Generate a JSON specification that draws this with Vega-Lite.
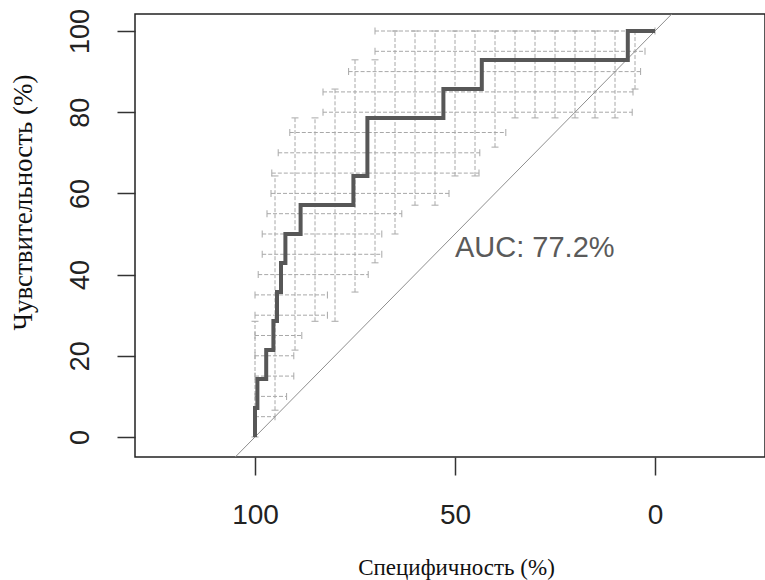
{
  "$schema": "https://vega.github.io/schema/vega-lite/v6.json",
  "width": 630,
  "height": 443,
  "autosize": "none",
  "padding": {"left": 135, "top": 14, "right": 0, "bottom": 123},
  "background": "white",
  "config": {
    "view": {"stroke": "#222", "strokeWidth": 1.5},
    "axis": {
      "grid": false,
      "domain": false,
      "tickColor": "#333",
      "tickWidth": 1.5,
      "tickSize": 18,
      "labelFont": "Liberation Sans",
      "labelFontSize": 28,
      "labelColor": "#222",
      "titleFont": "Liberation Serif",
      "titleFontSize": 27,
      "titleFontWeight": "normal",
      "titleColor": "#111"
    }
  },
  "datasets": {
    "roc": [
      {"i": 1, "spec": 100, "sens": 0},
      {"i": 2, "spec": 100, "sens": 7.14},
      {"i": 3, "spec": 99.4, "sens": 7.14},
      {"i": 4, "spec": 99.4, "sens": 14.29},
      {"i": 5, "spec": 97.2, "sens": 14.29},
      {"i": 6, "spec": 97.2, "sens": 21.43},
      {"i": 7, "spec": 95.4, "sens": 21.43},
      {"i": 8, "spec": 95.4, "sens": 28.57},
      {"i": 9, "spec": 94.5, "sens": 28.57},
      {"i": 10, "spec": 94.5, "sens": 35.71},
      {"i": 11, "spec": 93.5, "sens": 35.71},
      {"i": 12, "spec": 93.5, "sens": 42.86},
      {"i": 13, "spec": 92.4, "sens": 42.86},
      {"i": 14, "spec": 92.4, "sens": 50},
      {"i": 15, "spec": 88.6, "sens": 50},
      {"i": 16, "spec": 88.6, "sens": 57.14},
      {"i": 17, "spec": 75.4, "sens": 57.14},
      {"i": 18, "spec": 75.4, "sens": 64.29},
      {"i": 19, "spec": 71.9, "sens": 64.29},
      {"i": 20, "spec": 71.9, "sens": 78.57},
      {"i": 21, "spec": 52.9, "sens": 78.57},
      {"i": 22, "spec": 52.9, "sens": 85.71},
      {"i": 23, "spec": 43.3, "sens": 85.71},
      {"i": 24, "spec": 43.3, "sens": 92.86},
      {"i": 25, "spec": 6.8, "sens": 92.86},
      {"i": 26, "spec": 6.8, "sens": 100},
      {"i": 27, "spec": 0, "sens": 100}
    ],
    "ci_sp": [
      {"sens": 5, "sp_high": 100, "sp_low": 95},
      {"sens": 10, "sp_high": 100, "sp_low": 92.1},
      {"sens": 15, "sp_high": 100, "sp_low": 90.3},
      {"sens": 20, "sp_high": 100, "sp_low": 90.3},
      {"sens": 25, "sp_high": 100, "sp_low": 88.3},
      {"sens": 30, "sp_high": 100, "sp_low": 81.9},
      {"sens": 35, "sp_high": 100, "sp_low": 81.9},
      {"sens": 40, "sp_high": 99.2, "sp_low": 71.7},
      {"sens": 45, "sp_high": 98.2, "sp_low": 68.3},
      {"sens": 50, "sp_high": 98.2, "sp_low": 68.3},
      {"sens": 55, "sp_high": 97, "sp_low": 63.3},
      {"sens": 60, "sp_high": 96, "sp_low": 51.5},
      {"sens": 65, "sp_high": 95.8, "sp_low": 44},
      {"sens": 70, "sp_high": 94.2, "sp_low": 43.8},
      {"sens": 75, "sp_high": 91.3, "sp_low": 37.3},
      {"sens": 80, "sp_high": 83, "sp_low": 5.7},
      {"sens": 85, "sp_high": 83, "sp_low": 5.5},
      {"sens": 90, "sp_high": 76.6, "sp_low": 3.6},
      {"sens": 95, "sp_high": 70, "sp_low": 2.5},
      {"sens": 100, "sp_high": 70, "sp_low": 0}
    ],
    "ci_se": [
      {"spec": 100, "se_low": 0, "se_high": 28.5},
      {"spec": 95, "se_low": 6.6, "se_high": 64.3},
      {"spec": 90, "se_low": 21.4, "se_high": 78.6},
      {"spec": 85, "se_low": 28.5, "se_high": 78.6},
      {"spec": 80, "se_low": 28.5, "se_high": 85.7},
      {"spec": 75, "se_low": 35.7, "se_high": 92.9},
      {"spec": 70, "se_low": 42.9, "se_high": 92.9},
      {"spec": 65, "se_low": 50, "se_high": 100},
      {"spec": 60, "se_low": 57.1, "se_high": 100},
      {"spec": 55, "se_low": 57.1, "se_high": 100},
      {"spec": 50, "se_low": 64.3, "se_high": 100},
      {"spec": 45, "se_low": 64.3, "se_high": 100},
      {"spec": 40, "se_low": 71.4, "se_high": 100},
      {"spec": 35, "se_low": 78.6, "se_high": 100},
      {"spec": 30, "se_low": 78.6, "se_high": 100},
      {"spec": 25, "se_low": 78.6, "se_high": 100},
      {"spec": 20, "se_low": 78.6, "se_high": 100},
      {"spec": 15, "se_low": 78.6, "se_high": 100},
      {"spec": 10, "se_low": 78.6, "se_high": 100},
      {"spec": 5, "se_low": 85.7, "se_high": 100}
    ],
    "diag": [
      {"spec": 110, "sens": -10},
      {"spec": -10, "sens": 110}
    ],
    "auc": [
      {"spec": 50, "sens": 50, "label": "AUC: 77.2%"}
    ]
  },
  "layer": [
    {
      "data": {"name": "ci_sp"},
      "mark": {"type": "rule", "color": "#a8a8a8", "strokeWidth": 1, "strokeDash": [4, 2]},
      "encoding": {
        "x": {
          "field": "sp_high", "type": "quantitative",
          "scale": {"domain": [-27.5, 130], "reverse": true, "nice": false, "zero": false},
          "axis": {
            "values": [0, 50, 100],
            "title": "Специфичность (%)",
            "titleFontSize": 23,
            "labelBaseline": "alphabetic",
            "labelPadding": 48,
            "titleBaseline": "alphabetic",
            "titleAlign": "center",
            "titleX": 321,
            "titleY": 117
          }
        },
        "x2": {"field": "sp_low"},
        "y": {
          "field": "sens", "type": "quantitative",
          "scale": {"domain": [-4.93, 104.19], "nice": false, "zero": false},
          "axis": {
            "values": [0, 20, 40, 60, 80, 100],
            "title": "Чувствительность (%)",
            "labelAngle": -90,
            "labelAlign": "center",
            "labelBaseline": "alphabetic",
            "labelFontSize": 27,
            "labelPadding": 29,
            "titleAngle": -90,
            "titleBaseline": "alphabetic",
            "titleAlign": "center",
            "titleX": -104,
            "titleY": 188
          }
        }
      }
    },
    {
      "data": {"name": "ci_sp"},
      "transform": [{"fold": ["sp_high", "sp_low"], "as": ["end", "spec"]}],
      "mark": {"type": "tick", "orient": "vertical", "size": 7, "thickness": 1, "color": "#a8a8a8", "opacity": 1},
      "encoding": {
        "x": {"field": "spec", "type": "quantitative", "scale": {"domain": [-27.5, 130], "reverse": true, "nice": false, "zero": false}},
        "y": {"field": "sens", "type": "quantitative", "scale": {"domain": [-4.93, 104.19], "nice": false, "zero": false}}
      }
    },
    {
      "data": {"name": "ci_se"},
      "mark": {"type": "rule", "color": "#a8a8a8", "strokeWidth": 1, "strokeDash": [4, 2]},
      "encoding": {
        "x": {"field": "spec", "type": "quantitative", "scale": {"domain": [-27.5, 130], "reverse": true, "nice": false, "zero": false}},
        "y": {"field": "se_low", "type": "quantitative", "scale": {"domain": [-4.93, 104.19], "nice": false, "zero": false}},
        "y2": {"field": "se_high"}
      }
    },
    {
      "data": {"name": "ci_se"},
      "transform": [{"fold": ["se_low", "se_high"], "as": ["end", "sens"]}],
      "mark": {"type": "tick", "orient": "horizontal", "size": 7, "thickness": 1, "color": "#a8a8a8", "opacity": 1},
      "encoding": {
        "x": {"field": "spec", "type": "quantitative", "scale": {"domain": [-27.5, 130], "reverse": true, "nice": false, "zero": false}},
        "y": {"field": "sens", "type": "quantitative", "scale": {"domain": [-4.93, 104.19], "nice": false, "zero": false}}
      }
    },
    {
      "data": {"name": "diag"},
      "mark": {"type": "line", "color": "#8e8e8e", "strokeWidth": 1, "clip": true},
      "encoding": {
        "x": {"field": "spec", "type": "quantitative", "scale": {"domain": [-27.5, 130], "reverse": true, "nice": false, "zero": false}},
        "y": {"field": "sens", "type": "quantitative", "scale": {"domain": [-4.93, 104.19], "nice": false, "zero": false}}
      }
    },
    {
      "data": {"name": "roc"},
      "mark": {"type": "line", "color": "#575757", "strokeWidth": 4, "strokeJoin": "miter", "strokeCap": "butt"},
      "encoding": {
        "x": {"field": "spec", "type": "quantitative", "scale": {"domain": [-27.5, 130], "reverse": true, "nice": false, "zero": false}},
        "y": {"field": "sens", "type": "quantitative", "scale": {"domain": [-4.93, 104.19], "nice": false, "zero": false}},
        "order": {"field": "i", "type": "quantitative"}
      }
    },
    {
      "data": {"name": "auc"},
      "mark": {"type": "text", "align": "left", "baseline": "top", "font": "Liberation Sans", "fontSize": 29, "color": "#5a5a5a"},
      "encoding": {
        "x": {"field": "spec", "type": "quantitative", "scale": {"domain": [-27.5, 130], "reverse": true, "nice": false, "zero": false}},
        "y": {"field": "sens", "type": "quantitative", "scale": {"domain": [-4.93, 104.19], "nice": false, "zero": false}},
        "text": {"field": "label"}
      }
    }
  ]
}
